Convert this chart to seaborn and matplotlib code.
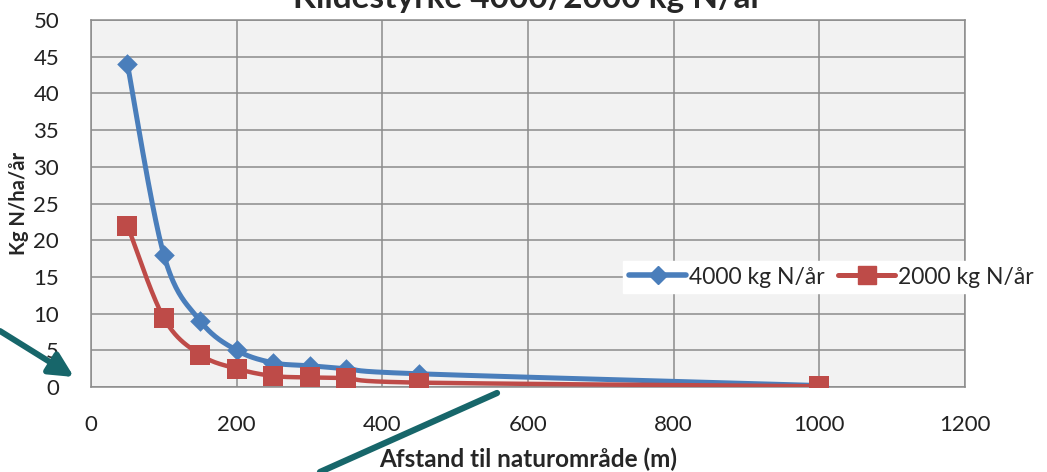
import numpy as np
import pandas as pd
import matplotlib
matplotlib.use("Agg")
import matplotlib.pyplot as plt
from matplotlib.lines import Line2D
from matplotlib.patches import FancyArrowPatch
import seaborn as sns

# --- data ---
afstand = [50, 100, 150, 200, 250, 300, 350, 450, 1000]
kg_4000 = [44, 18, 9, 5, 3.3, 2.9, 2.5, 1.8, 0.2]
kg_2000 = [22, 9.4, 4.4, 2.5, 1.5, 1.3, 1.2, 0.6, 0.1]
series_names = ["4000 kg N/år", "2000 kg N/år"]
title = "Kildestyrke 4000/2000 kg N/år"
xlabel = "Afstand til naturområde (m)"
ylabel = "Kg N/ha/år"

blue = "#4A7EBB"
red = "#BE4B48"
teal = "#17666A"


def smooth(xs, ys, n=40):
    # Catmull-Rom curve like Excel's "smoothed line"
    x = np.asarray(xs, float)
    y = np.asarray(ys, float)
    px = np.concatenate([[x[0]], x, [x[-1]]])
    py = np.concatenate([[y[0]], y, [y[-1]]])
    outx, outy = [], []
    for i in range(1, len(px) - 2):
        p0, p1, p2, p3 = (np.array([px[j], py[j]]) for j in (i - 1, i, i + 1, i + 2))
        c1 = p1 + (p2 - p0) / 6
        c2 = p2 - (p3 - p1) / 6
        t = np.linspace(0, 1, n)[:, None]
        b = (1 - t) ** 3 * p1 + 3 * (1 - t) ** 2 * t * c1 + 3 * (1 - t) * t ** 2 * c2 + t ** 3 * p2
        outx.extend(b[:, 0])
        outy.extend(b[:, 1])
    return outx, outy


sns.set_theme(style="white")
plt.rcParams['font.family'] = ['Lato', 'DejaVu Sans']

fig = plt.figure(figsize=(10.47, 4.72), dpi=100)
ax = fig.add_axes([91 / 1047, 1 - 387 / 472, (965 - 91) / 1047, (387 - 20) / 472])
ax.set_facecolor("#F2F2F2")

sx, sy = smooth(afstand, kg_4000)
sns.lineplot(x=sx, y=sy, ax=ax, color=blue, linewidth=3.6, sort=False, zorder=3)
sns.scatterplot(x=afstand, y=kg_4000, ax=ax, marker="D", s=110, color=blue,
                edgecolor=blue, linewidth=0, zorder=4)

sx, sy = smooth(afstand, kg_2000)
sns.lineplot(x=sx, y=sy, ax=ax, color=red, linewidth=3.2, sort=False, zorder=5)
sns.scatterplot(x=afstand, y=kg_2000, ax=ax, marker="s", s=190, color=red,
                edgecolor=red, linewidth=0, zorder=6)

ax.set_xlim(0, 1200)
ax.set_ylim(0, 50)
ax.set_xticks(range(0, 1201, 200))
ax.set_yticks(range(0, 51, 5))
ax.grid(True, color="#8C8C8C", linewidth=1.1)
ax.set_axisbelow(True)
for sp in ax.spines.values():
    sp.set_color("#8C8C8C")
    sp.set_linewidth(1.1)
ax.tick_params(axis="both", length=0, labelsize=16, colors="#222222")
ax.tick_params(axis="x", pad=20)
ax.tick_params(axis="y", pad=23)

ax.set_xlabel(xlabel, fontsize=17.5, fontweight="bold", labelpad=9)
ax.set_ylabel(ylabel, fontsize=14.5, fontweight="bold", labelpad=3)

fig.text(528 / 1047, 1 - 8 / 472, title, ha="center", va="baseline",
         fontsize=24, fontweight="bold")

handles = [
    Line2D([], [], color=blue, linewidth=4, marker="D", markersize=9),
    Line2D([], [], color=red, linewidth=3.6, marker="s", markersize=13),
]
leg = ax.legend(handles, series_names, loc="center left",
                bbox_to_anchor=(612 / 1047, 1 - 277 / 472), bbox_transform=fig.transFigure,
                ncol=2, frameon=True, fontsize=16.5, handlelength=2.5, handletextpad=0.1,
                columnspacing=0.6, borderpad=0.25, fancybox=False)
leg.get_frame().set_facecolor("white")
leg.get_frame().set_edgecolor("white")
leg.get_frame().set_alpha(1)

# teal arrows drawn over the chart
fig.add_artist(FancyArrowPatch(
    (0, 1 - 331 / 472), (74 / 1047, 1 - 377 / 472), transform=fig.transFigure,
    arrowstyle="-|>", mutation_scale=36, color=teal, linewidth=4.3,
    shrinkA=0, shrinkB=0))
fig.add_artist(Line2D([320 / 1047, 497 / 1047], [0, 1 - 393 / 472],
                      transform=fig.transFigure, color=teal, linewidth=4.5))

fig.savefig("out.png", dpi=100)
